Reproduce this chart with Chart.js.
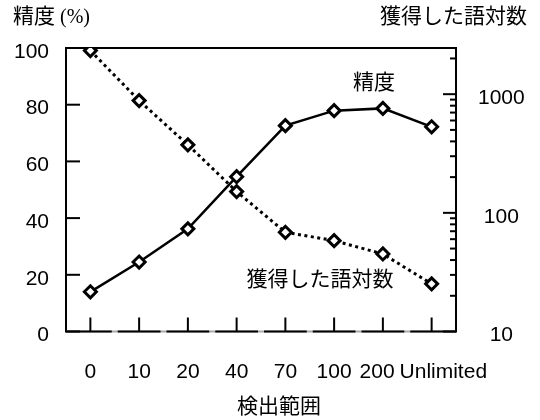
<!DOCTYPE html>
<html>
<head>
<meta charset="utf-8">
<script src="https://cdn.jsdelivr.net/npm/chart.js@4.4.1/dist/chart.umd.min.js"></script>
<style>
  body { margin: 0; background: #fff; }
  #wrap { width: 540px; height: 420px; }
</style>
</head>
<body>
<div id="wrap"><canvas id="myChart"></canvas></div>
<script>
// data
var categories = ['0', '10', '20', '40', '70', '100', '200', 'Unlimited'];
var precision = [14.0, 24.5, 36.2, 54.6, 72.6, 77.9, 78.7, 72.2];
var pairCounts = [2330, 883, 374, 151, 68.6, 58.3, 45, 25.2];
var leftTicks = [0, 20, 40, 60, 80, 100];
var rightTicks = [10, 100, 1000];
var rightMinor = [20, 30, 40, 50, 60, 70, 80, 90, 200, 300, 400, 500, 600, 700, 800, 900, 2000];

var numFont = "'Liberation Sans', Arial, sans-serif";
var jpFont = "'Liberation Sans', 'Noto Sans CJK JP', sans-serif";

Chart.defaults.color = '#000';

function line(ctx, x1, y1, x2, y2) {
  ctx.beginPath();
  ctx.moveTo(x1, y1);
  ctx.lineTo(x2, y2);
  ctx.stroke();
}

var framePlugin = {
  id: 'frame',
  beforeDatasetsDraw: function(chart) {
    var ctx = chart.ctx, a = chart.chartArea;
    var xs = chart.scales.x, yl = chart.scales.y, yr = chart.scales.y1;
    ctx.save();
    ctx.strokeStyle = '#000';
    ctx.lineWidth = 2;
    ctx.beginPath();
    ctx.moveTo(a.left, a.bottom);
    ctx.lineTo(a.left, a.top);
    ctx.lineTo(a.right, a.top);
    ctx.lineTo(a.right, a.bottom);
    ctx.stroke();

    // bottom line: grey base, black pieces between category edges
    ctx.strokeStyle = '#aaa';
    line(ctx, a.left, a.bottom, a.right, a.bottom);
    ctx.strokeStyle = '#000';
    var half = (xs.getPixelForValue(1) - xs.getPixelForValue(0)) / 2;
    for (var i = 0; i < categories.length; i++) {
      var cx = xs.getPixelForValue(i);
      var l = i === 0 ? a.left - 1 : cx - half + 3;
      var r = i === categories.length - 1 ? a.right + 1 : cx + half - 3;
      line(ctx, l, a.bottom, r, a.bottom);
      line(ctx, cx, a.bottom, cx, a.bottom - 14);
    }

    leftTicks.forEach(function(v) {
      var py = yl.getPixelForValue(v);
      line(ctx, a.left, py, a.left + 14, py);
    });
    rightTicks.forEach(function(v) {
      var py = yr.getPixelForValue(v);
      line(ctx, a.right - 13, py, a.right, py);
    });
    rightMinor.forEach(function(v) {
      var py = yr.getPixelForValue(v);
      line(ctx, a.right - 6, py, a.right, py);
    });
    ctx.restore();
  },
  afterDraw: function(chart) {
    var ctx = chart.ctx;
    ctx.save();
    ctx.fillStyle = '#000';
    ctx.textBaseline = 'middle';
    ctx.font = "21px " + jpFont;
    ctx.textAlign = 'left';
    ctx.fillText('精度', 13, 17);
    ctx.font = "20px 'Liberation Serif', serif";
    ctx.fillText('(%)', 60, 18);
    ctx.font = "21px " + jpFont;
    ctx.textAlign = 'right';
    ctx.fillText('獲得した語対数', 527, 17);
    ctx.textAlign = 'center';
    ctx.fillText('検出範囲', 279, 407);
    ctx.fillText('精度', 374, 83);
    ctx.fillText('獲得した語対数', 320, 280);
    ctx.restore();
  }
};

var pointOpts = {
  borderColor: '#000',
  pointStyle: 'rectRot',
  pointRadius: 6,
  pointBorderWidth: 3,
  pointBackgroundColor: '#fff',
  pointBorderColor: '#000',
  fill: false,
  tension: 0
};

var ctx = document.getElementById('myChart').getContext('2d');
new Chart(ctx, {
  type: 'line',
  data: {
    labels: categories,
    datasets: [
      Object.assign({ label: '精度', data: precision, yAxisID: 'y', borderWidth: 2.5 }, pointOpts),
      Object.assign({ label: '獲得した語対数', data: pairCounts, yAxisID: 'y1', borderWidth: 3, borderDash: [3, 3.5] }, pointOpts)
    ]
  },
  options: {
    responsive: true,
    maintainAspectRatio: false,
    animation: false,
    layout: { padding: { top: 48, left: 0, right: 0, bottom: 0 } },
    plugins: { legend: { display: false }, tooltip: { enabled: false } },
    scales: {
      x: {
        offset: true,
        grid: { display: false, drawTicks: false },
        border: { display: false },
        ticks: {
          font: { family: numFont, size: 21 }, color: '#000', padding: 28, maxRotation: 0, autoSkip: false,
          // nudge the crowded last labels apart, as in the original
          callback: function(v, i) {
            var t = categories[i];
            if (t === '200') return t + '  ';
            if (t === 'Unlimited') return '    ' + t;
            return t;
          }
        },
        afterFit: function(s) { s.height = 88.5; }
      },
      y: {
        type: 'linear',
        position: 'left',
        min: 0,
        max: 100,
        afterBuildTicks: function(s) { s.ticks = leftTicks.map(function(v) { return { value: v }; }); },
        grid: { display: false, drawTicks: false },
        border: { display: false },
        ticks: { font: { family: numFont, size: 21 }, color: '#000', padding: 17, labelOffset: 4 },
        afterFit: function(s) { s.width = 66; }
      },
      y1: {
        type: 'logarithmic',
        position: 'right',
        min: 10,
        max: 2450,
        afterBuildTicks: function(s) { s.ticks = rightTicks.map(function(v) { return { value: v }; }); },
        grid: { display: false, drawTicks: false },
        border: { display: false },
        ticks: {
          font: { family: numFont, size: 21 }, color: '#000', padding: 22, crossAlign: 'center', labelOffset: 4,
          callback: function(v) { return String(v); }
        },
        afterFit: function(s) { s.width = 84; }
      }
    }
  },
  plugins: [framePlugin]
});
</script>
</body>
</html>
